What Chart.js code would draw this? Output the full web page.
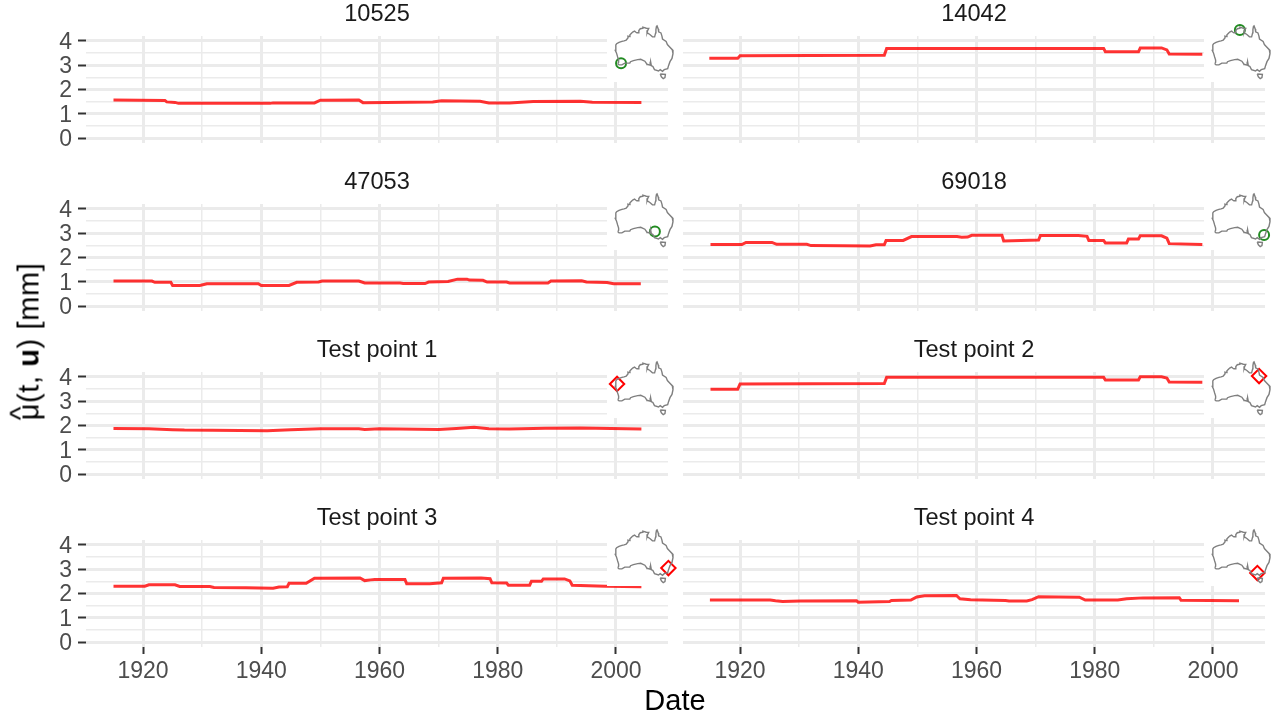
<!DOCTYPE html>
<html>
<head>
<meta charset="utf-8">
<title>Estimated mean by site</title>
<script src="https://cdn.jsdelivr.net/npm/chart.js@4"></script>
<style>
    body { margin: 0; background: #fff; width: 1276px; height: 719px; overflow: hidden; position: relative;
        font-family: "Liberation Sans", sans-serif; }
    canvas { position: absolute; }
    .inset { background: #fff; }
    #x-label { position: absolute; left: 575px; width: 200px; top: 684px; text-align: center; font-size: 29px; color: #000; }
    #y-label { position: absolute; left: -71.5px; top: 325px; width: 200px; text-align: center; font-size: 29px; color: #000;
        letter-spacing: 0.6px; transform: rotate(-90deg); white-space: nowrap; }
    .mu { position: relative; display: inline-block; }
    .hat { position: absolute; left: 0; top: -8px; }
</style>
</head>
<body>
<div id="charts-container"></div>
<div id="x-label">Date</div>
<div id="y-label"><span class="mu">&#956;<span class="hat">^</span></span>(t, <b>u</b>) [mm]</div>
<script>
// Axis ticks
const xTicks = [1920, 1930, 1940, 1950, 1960, 1970, 1980, 1990, 2000];
const yTicks = [0, 0.5, 1, 1.5, 2, 2.5, 3, 3.5, 4];

// Panel titles, in reading order
const panelTitles = ['10525', '14042', '47053', '69018', 'Test point 1', 'Test point 2', 'Test point 3', 'Test point 4'];

// Step series
const years10525 = [1915, 1923.7, 1924, 1925.4, 1926, 1941.5, 1942, 1949, 1950, 1956.5, 1957.2, 1969, 1970.5, 1977, 1978.5, 1982, 1986, 1994, 1996, 2004.3];
const values10525 = [1.57, 1.55, 1.49, 1.47, 1.43, 1.43, 1.45, 1.45, 1.56, 1.57, 1.46, 1.49, 1.54, 1.52, 1.45, 1.45, 1.51, 1.52, 1.48, 1.47];

const years14042 = [1914.8, 1919.6, 1920, 1944.4, 1944.8, 1981.5, 1981.8, 1987.4, 1987.7, 1991.3, 1992.2, 1992.6, 1998.2];
const values14042 = [3.28, 3.28, 3.39, 3.41, 3.69, 3.69, 3.55, 3.55, 3.71, 3.71, 3.63, 3.46, 3.45];

const years47053 = [1915, 1921.5, 1922, 1924.7, 1925, 1929.6, 1930.8, 1939.5, 1940, 1944.7, 1946, 1949.7, 1950.3, 1956.5, 1957.5, 1963.5, 1964, 1967.7, 1968.3, 1971.6, 1973.2, 1974.8, 1975.2, 1977.5, 1978.2, 1981.5, 1982, 1988.5, 1989, 1994.2, 1995, 1998.5, 1999.6, 2004.2];
const values47053 = [1.03, 1.03, 0.98, 0.98, 0.85, 0.85, 0.92, 0.92, 0.85, 0.85, 0.98, 0.99, 1.03, 1.03, 0.95, 0.95, 0.93, 0.93, 0.99, 1.01, 1.11, 1.11, 1.07, 1.06, 0.99, 0.99, 0.95, 0.95, 1.03, 1.04, 0.99, 0.97, 0.92, 0.92];

const years69018 = [1915, 1920.3, 1921, 1925.4, 1926.2, 1931.3, 1932, 1937.4, 1942, 1943, 1944.4, 1944.7, 1947.6, 1949, 1956.7, 1957.5, 1958.5, 1959.2, 1964.3, 1964.6, 1970.5, 1970.8, 1977.2, 1978.7, 1979, 1981.5, 1981.8, 1985.4, 1985.7, 1987.4, 1987.7, 1991.3, 1992.2, 1992.6, 1998.2];
const values69018 = [2.53, 2.53, 2.62, 2.62, 2.54, 2.54, 2.49, 2.48, 2.47, 2.52, 2.52, 2.70, 2.70, 2.86, 2.86, 2.83, 2.84, 2.91, 2.91, 2.68, 2.72, 2.90, 2.90, 2.87, 2.70, 2.70, 2.60, 2.60, 2.76, 2.76, 2.89, 2.89, 2.80, 2.57, 2.53];

const yearsTest1 = [1915, 1921, 1925, 1927, 1941, 1945, 1950, 1956.5, 1957.5, 1960, 1970, 1973, 1976, 1978.5, 1982, 1988, 1994, 2004.3];
const valuesTest1 = [1.88, 1.87, 1.83, 1.81, 1.78, 1.83, 1.87, 1.87, 1.84, 1.87, 1.84, 1.88, 1.93, 1.87, 1.86, 1.89, 1.90, 1.86];

const yearsTest2 = [1915, 1919.6, 1920, 1944.4, 1944.8, 1981.5, 1981.8, 1987.4, 1987.7, 1991.3, 1992.2, 1992.6, 1998.2];
const valuesTest2 = [3.49, 3.49, 3.71, 3.73, 3.98, 3.98, 3.87, 3.87, 4.0, 4.0, 3.95, 3.79, 3.78];

const yearsTest3 = [1915, 1920.3, 1921, 1925.4, 1926.2, 1931.3, 1932, 1937.4, 1942, 1943, 1944.4, 1944.7, 1947.6, 1949, 1956.7, 1957.5, 1958.5, 1959.2, 1964.3, 1964.6, 1968.5, 1970.5, 1970.8, 1977.2, 1978.7, 1979, 1981.5, 1981.8, 1985.4, 1985.7, 1987.4, 1987.7, 1991.3, 1992.2, 1992.6, 1998.2, 2004.3];
const valuesTest3 = [2.30, 2.30, 2.36, 2.36, 2.29, 2.29, 2.25, 2.24, 2.22, 2.27, 2.28, 2.42, 2.42, 2.63, 2.64, 2.53, 2.56, 2.58, 2.58, 2.40, 2.40, 2.44, 2.63, 2.64, 2.61, 2.44, 2.43, 2.34, 2.34, 2.50, 2.50, 2.60, 2.60, 2.52, 2.34, 2.30, 2.28];

const yearsTest4 = [1914.9, 1925.1, 1926, 1927.2, 1930.2, 1939.7, 1940, 1945.3, 1945.6, 1948.9, 1949.9, 1951.2, 1956.6, 1957.2, 1959, 1964.9, 1965.5, 1968.5, 1969.4, 1970.5, 1977.4, 1978.4, 1983.9, 1985.4, 1988.2, 1994.3, 1994.6, 2004.4];
const valuesTest4 = [1.73, 1.73, 1.70, 1.67, 1.69, 1.70, 1.64, 1.67, 1.71, 1.73, 1.86, 1.91, 1.92, 1.78, 1.74, 1.71, 1.69, 1.69, 1.75, 1.87, 1.85, 1.73, 1.73, 1.78, 1.82, 1.83, 1.72, 1.70];

const seriesYears = [years10525, years14042, years47053, years69018, yearsTest1, yearsTest2, yearsTest3, yearsTest4];
const seriesValues = [values10525, values14042, values47053, values69018, valuesTest1, valuesTest2, valuesTest3, valuesTest4];

// Site locations on the inset map
const siteLon = [117.4, 132.6, 141.0, 149.5, 114.6, 146.0, 150.4, 144.8];
const siteLat = [-34.0, -13.2, -34.2, -36.3, -24.4, -19.5, -34.5, -37.6];

// Australia outline for the inset map
const mainlandLon = [115.1, 115.7, 115.7, 115, 114.2, 113.4, 113.7, 113.8, 114.3, 116, 118, 119.5, 121, 122.3, 122.2, 123.5, 123.6, 124.5, 125.5, 126.8, 127.8, 128.4, 129.5, 129.8, 130.8, 132.5, 132.6, 135, 136.7, 136, 135.5, 137.5, 139.3, 140.8, 141.5, 141.7, 142.1, 142.5, 143.3, 143.6, 145.2, 145.9, 146.3, 148.8, 149.7, 150.8, 153.1, 153.6, 152.9, 151.5, 150.5, 149.9, 147.5, 146.3, 144.7, 143.5, 140.7, 139.6, 138.5, 138, 137.7, 136, 135.5, 134, 131.1, 129, 126, 124, 123.5, 120, 118, 116, 115.1];
const mainlandLat = [-34.3, -33.4, -32, -30, -27.5, -26, -24, -22.5, -21.8, -20.9, -20.3, -20, -19.6, -18, -17, -17.3, -16.2, -15.4, -14.5, -13.9, -14.6, -14.9, -14.9, -13.5, -12.4, -12.1, -11.4, -12.1, -12.2, -13.4, -14.9, -16, -17.4, -17.5, -15, -13, -11, -10.7, -12.5, -14.3, -15, -17, -18.8, -20.3, -22.3, -23.3, -25.5, -28, -31, -33, -35.5, -37.4, -38, -39, -38, -38.8, -38, -36, -35.5, -33, -35.2, -34.8, -34.6, -32.7, -31.5, -31.7, -32.3, -33, -33.9, -33.9, -35, -34.9, -34.3];
const tasmaniaLon = [144.7, 148.3, 148, 146.8, 145.5, 144.7];
const tasmaniaLat = [-40.7, -40.9, -43, -43.6, -42.5, -40.7];

function toPoints(lons, lats) {
    return lons.map((lon, i) => ({ x: lon, y: lats[i] }));
}

function addCanvas(left, top, width, height, className) {
    const canvas = document.createElement('canvas');
    canvas.width = width;
    canvas.height = height;
    canvas.style.left = left + 'px';
    canvas.style.top = top + 'px';
    canvas.style.width = width + 'px';
    canvas.style.height = height + 'px';
    if (className) canvas.className = className;
    document.getElementById('charts-container').appendChild(canvas);
    return canvas;
}

// Function to draw one facet: the red line, grid, ticks and title
function createPanel(index) {
    const col = index % 2;
    const row = Math.floor(index / 2);
    const isBottom = row === 3;
    const isLeft = col === 0;
    const canvas = addCanvas(col * 597, row * 168, 668, isBottom ? 183 : 168);
    const points = toPoints(seriesYears[index], seriesValues[index]);
    const gridColor = '#ebebeb';

    new Chart(canvas.getContext('2d'), {
        type: 'line',
        data: {
            datasets: [{
                data: points,
                borderColor: 'rgba(255, 0, 0, 0.8)',
                borderWidth: 3,
                pointRadius: 0,
                tension: 0
            }]
        },
        options: {
            responsive: false,
            animation: false,
            layout: { padding: 0, autoPadding: false },
            plugins: {
                legend: { display: false },
                tooltip: { enabled: false },
                title: {
                    display: true,
                    text: panelTitles[index],
                    color: '#1a1a1a',
                    fullSize: false,
                    font: { family: 'Liberation Sans', size: 23.6, weight: 'normal', lineHeight: 1 },
                    padding: { top: 3, bottom: 9.4 }
                }
            },
            scales: {
                x: {
                    type: 'linear',
                    min: 1910.35,
                    max: 2008.8,
                    afterBuildTicks: axis => { axis.ticks = xTicks.map(v => ({ value: v })); },
                    afterFit: axis => {
                        axis.height = isBottom ? 40 : 25;
                        axis.paddingLeft = 0;
                        axis.paddingRight = 0;
                    },
                    border: { display: false },
                    grid: {
                        color: gridColor,
                        lineWidth: ctx => (ctx.tick.value % 20 === 0 ? 3 : 1.5),
                        drawTicks: isBottom,
                        tickLength: 7,
                        tickWidth: 2,
                        tickColor: ctx => (ctx.tick.value % 20 === 0 ? '#333333' : 'rgba(0,0,0,0)')
                    },
                    ticks: {
                        display: isBottom,
                        autoSkip: false,
                        maxRotation: 0,
                        padding: 4,
                        color: '#4d4d4d',
                        font: { family: 'Liberation Sans', size: 23 },
                        callback: v => (v % 20 === 0 ? String(v) : '')
                    }
                },
                y: {
                    min: -0.2,
                    max: 4.2,
                    afterBuildTicks: axis => { axis.ticks = yTicks.map(v => ({ value: v })); },
                    afterFit: axis => {
                        axis.width = 86;
                        axis.paddingTop = 0;
                        axis.paddingBottom = 0;
                    },
                    border: { display: false },
                    grid: {
                        color: gridColor,
                        lineWidth: ctx => (ctx.tick.value % 1 === 0 ? 3 : 1.5),
                        drawTicks: isLeft,
                        tickLength: 8,
                        tickWidth: 2,
                        tickColor: ctx => (ctx.tick.value % 1 === 0 ? '#333333' : 'rgba(0,0,0,0)')
                    },
                    ticks: {
                        display: isLeft,
                        autoSkip: false,
                        padding: 6,
                        labelOffset: 1.5,
                        color: '#4d4d4d',
                        font: { family: 'Liberation Sans', size: 23 },
                        callback: v => (v % 1 === 0 ? String(v) : '')
                    }
                }
            }
        }
    });
}

// Function to draw the small map with the site marker over a facet's corner
function createInset(index) {
    const col = index % 2;
    const row = Math.floor(index / 2);
    const canvas = addCanvas(607 + col * 597, 24 + row * 168, 70, 58, 'inset');
    const isTestPoint = index >= 4;
    const markerColor = isTestPoint ? '#ff0000' : '#228b22';
    const outline = {
        showLine: true,
        borderColor: '#7f7f7f',
        borderWidth: 1.4,
        pointRadius: 0,
        tension: 0
    };

    new Chart(canvas.getContext('2d'), {
        type: 'scatter',
        data: {
            datasets: [
                Object.assign({ data: toPoints(mainlandLon, mainlandLat) }, outline),
                Object.assign({ data: toPoints(tasmaniaLon, tasmaniaLat) }, outline),
                {
                    data: [{ x: siteLon[index], y: siteLat[index] }],
                    pointStyle: isTestPoint ? 'rectRot' : 'circle',
                    pointRadius: isTestPoint ? 7.2 : 5,
                    pointBorderColor: markerColor,
                    pointBackgroundColor: 'rgba(0,0,0,0)',
                    pointBorderWidth: 2,
                    clip: false
                }
            ]
        },
        options: {
            responsive: false,
            animation: false,
            layout: { padding: 0, autoPadding: false },
            plugins: { legend: { display: false }, tooltip: { enabled: false } },
            scales: {
                x: { display: false, min: 107.6, max: 156.4 },
                y: { display: false, min: -45.7, max: -9.45 }
            }
        }
    });
}

panelTitles.forEach((title, index) => createPanel(index));
panelTitles.forEach((title, index) => createInset(index));
</script>
</body>
</html>
